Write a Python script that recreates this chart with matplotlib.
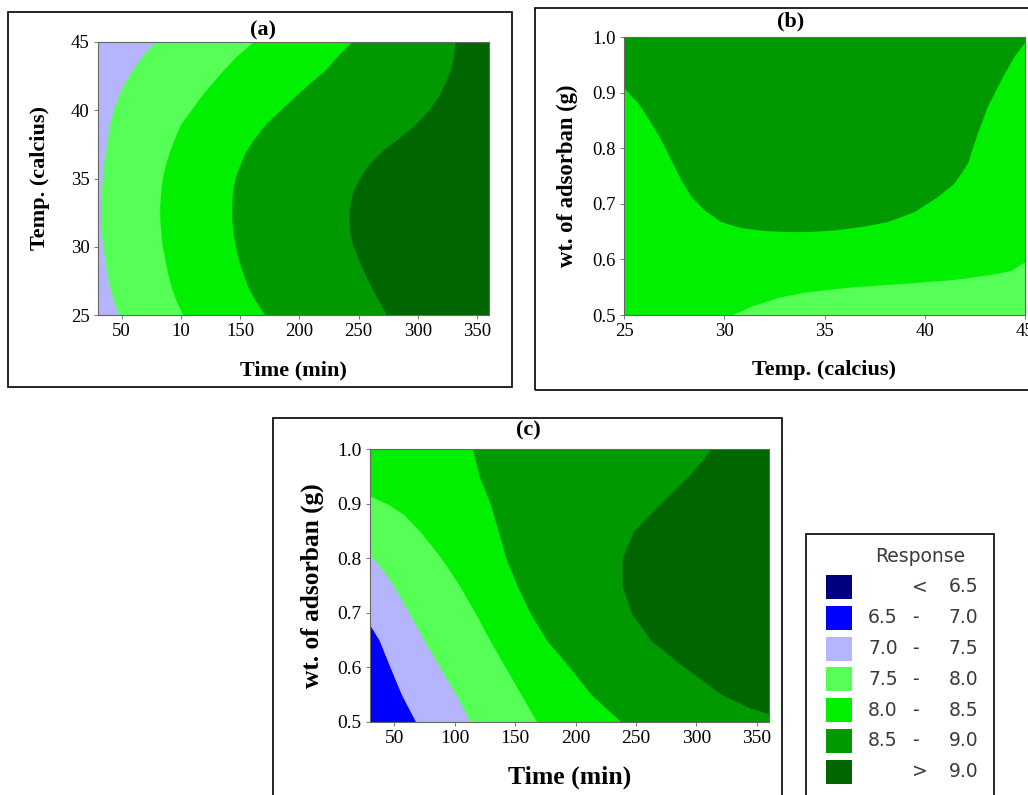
import numpy as np
import matplotlib.pyplot as plt
from matplotlib.patches import Rectangle

# --- response bands (Minitab contour legend) ---
BAND_COLORS = ["#000080", "#0000FF", "#B4B4FF", "#55FF55", "#00F000", "#009900", "#006600"]
BAND_LOW = ["", "6.5", "7.0", "7.5", "8.0", "8.5", ""]
BAND_SEP = ["<", "-", "-", "-", "-", "-", ">"]
BAND_HIGH = ["6.5", "7.0", "7.5", "8.0", "8.5", "9.0", "9.0"]

# --- panel (a): time vs temperature, boundaries read as time at each temperature ---
A_TEMP = [25, 26, 27, 28, 29, 30, 31, 32, 33, 34, 35, 36, 37, 38, 39, 40, 41, 42, 43, 44, 45]
A_B75 = [47.7, 43.2, 39.9, 37.6, 35.9, 34.2, 32.8, 32.3, 32.3, 32.8, 33.7, 34.5, 36.5,
         38.2, 39.9, 42.7, 46.9, 52.2, 59.3, 67.5, 77.9]
A_B80 = [101.8, 96.2, 92.0, 88.9, 86.6, 84.3, 83.2, 82.1, 82.1, 82.9, 84.3, 86.9, 90.5,
         94.8, 99.8, 108.3, 116.7, 126.3, 136.2, 147.4, 160.9]
A_B85 = [170.8, 163.2, 156.7, 152.5, 148.6, 146.0, 144.0, 142.9, 142.9, 143.5, 145.5, 149.7,
         154.7, 162.4, 171.4, 183.5, 196.1, 208.8, 222.3, 232.2, 244.0]
A_B90 = [273.6, 267.1, 260.9, 255.3, 250.2, 245.4, 242.6, 241.8, 242.3, 244.9, 250.5, 258.1,
         269.4, 284.3, 298.1, 309.0, 317.2, 322.9, 327.7, 330.2, 331.3]
A_XTICKS = [50, 100, 150, 200, 250, 300, 350]
A_XTICKLABELS = ["50", "10", "150", "200", "250", "300", "350"]
A_YTICKS = [25, 30, 35, 40, 45]

# --- panel (b): temperature vs adsorbent weight, boundaries read as weight at each temperature ---
B_TEMP85 = [25, 25.7, 26.35, 26.84, 27.34, 27.84, 28.34, 29.0, 29.83, 30.83, 32.0, 33.16, 34.15,
            35.48, 36.81, 38.14, 39.47, 40.63, 41.46, 42.13, 42.62, 43.12, 43.79, 44.45, 45]
B_B85 = [0.908, 0.881, 0.845, 0.815, 0.779, 0.743, 0.713, 0.689, 0.668, 0.657, 0.652, 0.650, 0.650,
         0.653, 0.659, 0.668, 0.686, 0.713, 0.737, 0.773, 0.827, 0.875, 0.923, 0.965, 0.992]
B_TEMP80 = [25, 30.33, 31.5, 32.82, 34.15, 36.48, 38.97, 41.46, 43.12, 44.29, 45]
B_B80 = [0.5, 0.5, 0.518, 0.533, 0.542, 0.551, 0.557, 0.564, 0.572, 0.580, 0.596]
B_XTICKS = [25, 30, 35, 40, 45]
WT_TICKS = [0.5, 0.6, 0.7, 0.8, 0.9, 1.0]

# --- panel (c): time vs adsorbent weight, boundaries read as time at each weight ---
C_W70 = [0.5, 0.55, 0.6, 0.65, 0.677, 1.0]
C_B70 = [67.8, 56.0, 46.6, 37.5, 30, 30]
C_W75 = [0.5, 0.55, 0.6, 0.65, 0.7, 0.75, 0.78, 0.806, 1.0]
C_B75 = [112.9, 101.0, 87.8, 74.5, 62.3, 49.3, 40.0, 30, 30]
C_W80 = [0.5, 0.55, 0.6, 0.65, 0.7, 0.75, 0.8, 0.85, 0.88, 0.9, 0.914, 1.0]
C_B80 = [168.0, 155.0, 142.0, 129.0, 117.0, 104.0, 89.0, 71.0, 58.0, 44.0, 30, 30]
C_W85 = [0.5, 0.55, 0.6, 0.65, 0.7, 0.75, 0.8, 0.85, 0.9, 0.95, 1.0]
C_B85 = [237.7, 213.0, 195.0, 176.0, 162.3, 151.5, 142.4, 136.0, 129.4, 120.3, 114.8]
C_W90 = [0.5, 0.515, 0.525, 0.55, 0.6, 0.65, 0.7, 0.75, 0.8, 0.85, 0.9, 0.95, 0.975, 1.0]
C_B90 = [360, 360, 345, 321, 290, 262, 246, 238.5, 238.5, 248, 270, 293, 303, 312]
C_XTICKS = [50, 100, 150, 200, 250, 300, 350]

TIME_LIM = (30, 360)
TEMP_LIM = (25, 45)
WT_LIM = (0.5, 1.0)

SERIF = "Liberation Serif"
plt.rcParams["font.family"] = SERIF


def style_axes(ax, tick_size=13.5):
    for sp in ax.spines.values():
        sp.set_color("#666666")
        sp.set_linewidth(0.8)
    ax.tick_params(direction="out", length=3, width=0.7, color="#777777",
                   labelsize=tick_size, pad=3)


def frame_box(fig, left, bottom, width, height):
    fig.patches.append(Rectangle((left, bottom), width, height, transform=fig.transFigure,
                                 fill=False, edgecolor="black", linewidth=1.2, clip_on=False))


fig = plt.figure(figsize=(10.28, 7.95), dpi=100)
W, H = 1028.0, 795.0


def px_axes(x0, y0, x1, y1):
    return fig.add_axes([x0 / W, 1 - y1 / H, (x1 - x0) / W, (y1 - y0) / H])


# outer frames
frame_box(fig, 8 / W, 1 - 387 / H, 504 / W, 375 / H)
frame_box(fig, 535 / W, 1 - 390 / H, 520 / W, 382 / H)
frame_box(fig, 273 / W, -0.01, 509 / W, 1 - 418 / H + 0.01)
frame_box(fig, 806 / W, -0.01, 188 / W, 1 - 534 / H + 0.01)

# ---------- (a) ----------
ax = px_axes(98, 42, 489, 315)
ax.set_facecolor(BAND_COLORS[2])
for bound, col in zip([A_B75, A_B80, A_B85, A_B90], BAND_COLORS[3:]):
    ax.fill_betweenx(A_TEMP, bound, TIME_LIM[1], color=col, linewidth=0)
ax.set_xlim(*TIME_LIM)
ax.set_ylim(*TEMP_LIM)
ax.set_xticks(A_XTICKS)
ax.set_xticklabels(A_XTICKLABELS)
ax.set_yticks(A_YTICKS)
style_axes(ax)
ax.set_xlabel("Time (min)", fontsize=16, fontweight="bold", va="center")
ax.xaxis.set_label_coords(0.5, -55 / 273)
ax.set_ylabel("Temp. (calcius)", fontsize=16, fontweight="bold", va="center")
ax.yaxis.set_label_coords(-58 / 391, 0.5)

# ---------- (b) ----------
ax = px_axes(624, 37, 1025, 315)
ax.set_facecolor(BAND_COLORS[3])
ax.fill_between(B_TEMP80, B_B80, WT_LIM[1], color=BAND_COLORS[4], linewidth=0)
ax.fill_between(B_TEMP85, B_B85, WT_LIM[1], color=BAND_COLORS[5], linewidth=0)
ax.set_xlim(*TEMP_LIM)
ax.set_ylim(*WT_LIM)
ax.set_xticks(B_XTICKS)
ax.set_yticks(WT_TICKS)
ax.set_yticklabels([f"{v:.1f}" for v in WT_TICKS])
style_axes(ax)
ax.set_xlabel("Temp. (calcius)", fontsize=16, fontweight="bold", va="center")
ax.xaxis.set_label_coords(0.5, -55 / 278)
ax.set_ylabel("wt. of adsorban (g)", fontsize=16.3, fontweight="bold", va="center")
ax.yaxis.set_label_coords(-57 / 401, 0.5)

# ---------- (c) ----------
ax = px_axes(370, 449, 769, 722)
ax.set_facecolor(BAND_COLORS[1])
for w, bound, col in zip([C_W70, C_W75, C_W80, C_W85, C_W90],
                         [C_B70, C_B75, C_B80, C_B85, C_B90], BAND_COLORS[2:]):
    ax.fill_betweenx(w, bound, TIME_LIM[1], color=col, linewidth=0)
ax.set_xlim(*TIME_LIM)
ax.set_ylim(*WT_LIM)
ax.set_xticks(C_XTICKS)
ax.set_yticks(WT_TICKS)
ax.set_yticklabels([f"{v:.1f}" for v in WT_TICKS])
style_axes(ax, tick_size=14)
ax.set_xlabel("Time (min)", fontsize=18.5, fontweight="bold", va="center")
ax.xaxis.set_label_coords(0.5, -55 / 273)
ax.set_ylabel("wt. of adsorban (g)", fontsize=18.3, fontweight="bold", va="center")
ax.yaxis.set_label_coords(-58 / 399, 0.5)

# panel titles
fig.text(263 / W, 1 - 30 / H, "(a)", fontsize=16, fontweight="bold", ha="center", va="center")
fig.text(791 / W, 1 - 21 / H, "(b)", fontsize=16, fontweight="bold", ha="center", va="center")
fig.text(528 / W, 1 - 430 / H, "(c)", fontsize=16, fontweight="bold", ha="center", va="center")

# ---------- legend ----------
LEG = dict(fontsize=13.5, color="#3a3a3a", family="DejaVu Sans", va="center")
fig.text(920 / W, 1 - 557 / H, "Response", ha="center", **LEG)
row_y = 587
for col, lo, sep, hi in zip(BAND_COLORS, BAND_LOW, BAND_SEP, BAND_HIGH):
    y = 1 - row_y / H
    fig.patches.append(Rectangle((826 / W, y - 12 / H), 26 / W, 24 / H, transform=fig.transFigure,
                                 facecolor=col, edgecolor="none"))
    if lo:
        fig.text(868 / W, y, lo, ha="left", **LEG)
    fig.text((915 if sep == "-" else 920) / W, y, sep, ha="center", **LEG)
    fig.text(978 / W, y, hi, ha="right", **LEG)
    row_y += 30.8

fig.savefig("out.png", dpi=100)
